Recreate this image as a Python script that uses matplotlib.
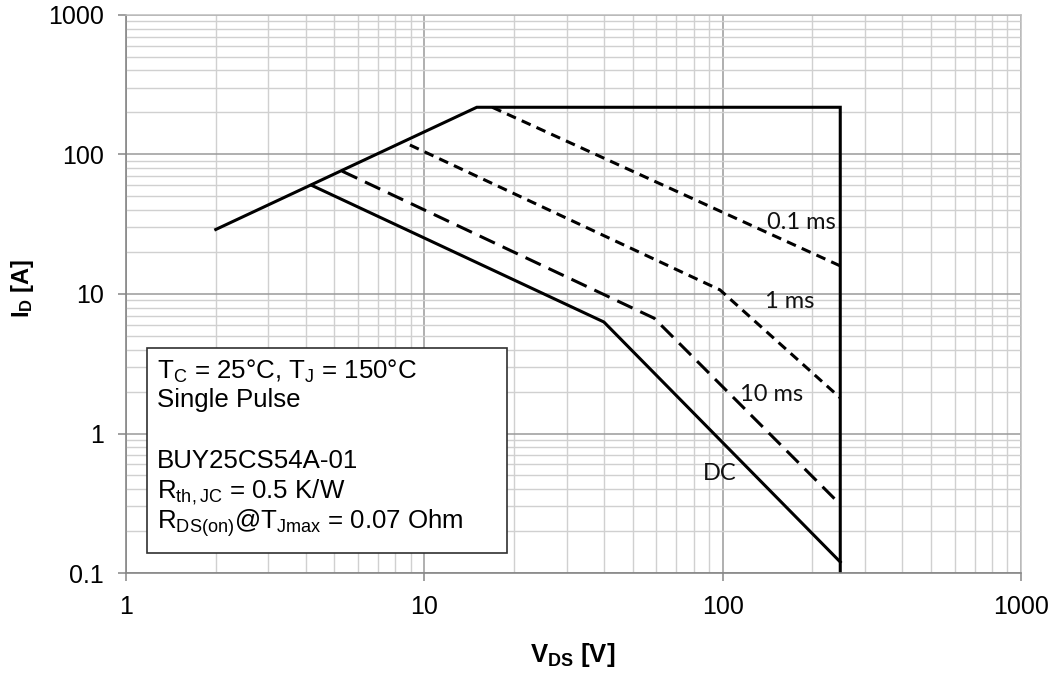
import matplotlib
matplotlib.use("Agg")
import matplotlib.pyplot as plt
from matplotlib.patches import Rectangle

plt.rcParams['font.family'] = ['Liberation Sans', 'DejaVu Sans']
plt.rcParams['mathtext.fontset'] = 'custom'
plt.rcParams['mathtext.rm'] = 'Liberation Sans'
plt.rcParams['mathtext.it'] = 'Liberation Sans:italic'
plt.rcParams['mathtext.bf'] = 'Liberation Sans:bold'

# SOA limit: RDS(on) line, current limit, voltage limit
limit_v = [2.0, 15.0, 248, 248]
limit_i = [29.0, 218, 218, 0.1]

# pulse curves (V_DS, I_D)
p01_v = [16.9, 248]
p01_i = [218, 15.9]
p1_v = [8.95, 98, 248]
p1_i = [117, 10.7, 1.8]
p10_v = [5.3, 59, 248]
p10_i = [76, 6.7, 0.31]
dc_v = [4.2, 40, 248]
dc_i = [60, 6.3, 0.12]

# curve labels
lab_txt = ["0.1 ms", "1 ms", "10 ms", "DC"]
lab_v = [184, 168, 146, 98]
lab_i = [32.8, 8.8, 1.89, 0.513]

box_lines = [r'T$_\mathregular{C}$ = 25°C, T$_\mathregular{J}$ = 150°C',
             'Single Pulse',
             'BUY25CS54A-01',
             r'R$_\mathregular{th,JC}$ = 0.5 K/W',
             r'R$_\mathregular{DS(on)}$@T$_\mathregular{Jmax}$ = 0.07 Ohm']
box_y = [0.3477, 0.2975, 0.1882, 0.1344, 0.0789]

fig = plt.figure(figsize=(10.54, 6.75), dpi=100)
ax = fig.add_axes([0.1195, 0.1511, 0.8491, 0.8267])
ax.set_xscale('log')
ax.set_yscale('log')
ax.set_xlim(1, 1000)
ax.set_ylim(0.1, 1000)

# grid like the excel sheet
ax.grid(True, which='minor', color='#d0d0d0', lw=1.0)
ax.grid(True, which='major', color='#9a9a9a', lw=1.1)
ax.set_axisbelow(True)

lw = 2.2
ax.plot(limit_v, limit_i, color='black', lw=lw, solid_joinstyle='miter')
ax.plot(dc_v, dc_i, color='black', lw=lw)
ax.plot(p10_v, p10_i, color='black', lw=lw, linestyle=(0, (5.5, 2.8)))
ax.plot(p1_v, p1_i, color='black', lw=lw, linestyle=(0, (3.2, 2.1)))
ax.plot(p01_v, p01_i, color='black', lw=lw, linestyle=(0, (3.2, 2.1)))

for t, v, i in zip(lab_txt, lab_v, lab_i):
    ax.text(v, i, t, ha='center', va='center', fontsize=17,
            family=['Lato', 'DejaVu Sans'], color='#111111')

# info box
ax.add_patch(Rectangle((0.0235, 0.0358), 0.402, 0.367, transform=ax.transAxes,
                       facecolor='white', edgecolor='#303030', lw=1.2, zorder=3))
for t, y in zip(box_lines, box_y):
    ax.text(0.0346, y, t, transform=ax.transAxes, ha='left', va='baseline',
            fontsize=18.6, zorder=4)

# ticks
ax.set_xticks([1, 10, 100, 1000])
ax.set_xticklabels(['1', '10', '100', '1000'])
ax.set_yticks([0.1, 1, 10, 100, 1000])
ax.set_yticklabels(['0.1', '1', '10', '100', '1000'])
ax.tick_params(which='major', direction='out', length=6, width=1.1,
               color='#868686', labelsize=18, pad=10)
ax.tick_params(which='minor', length=0)

for s in ['left', 'bottom']:
    ax.spines[s].set_color('#868686')
    ax.spines[s].set_linewidth(1.2)
for s in ['top', 'right']:
    ax.spines[s].set_color('#bdbdbd')
    ax.spines[s].set_linewidth(1.1)

fig.text(0.5436, 0.0296, r'$\mathbf{V_{DS}}$ [V]', ha='center', va='center',
         fontsize=18.5, fontweight='bold')
fig.text(0.0209, 0.5733, r'$\mathbf{I_{D}}$ [A]', ha='center', va='center',
         fontsize=17, fontweight='bold', rotation=90)

fig.savefig('out.png', dpi=100)
